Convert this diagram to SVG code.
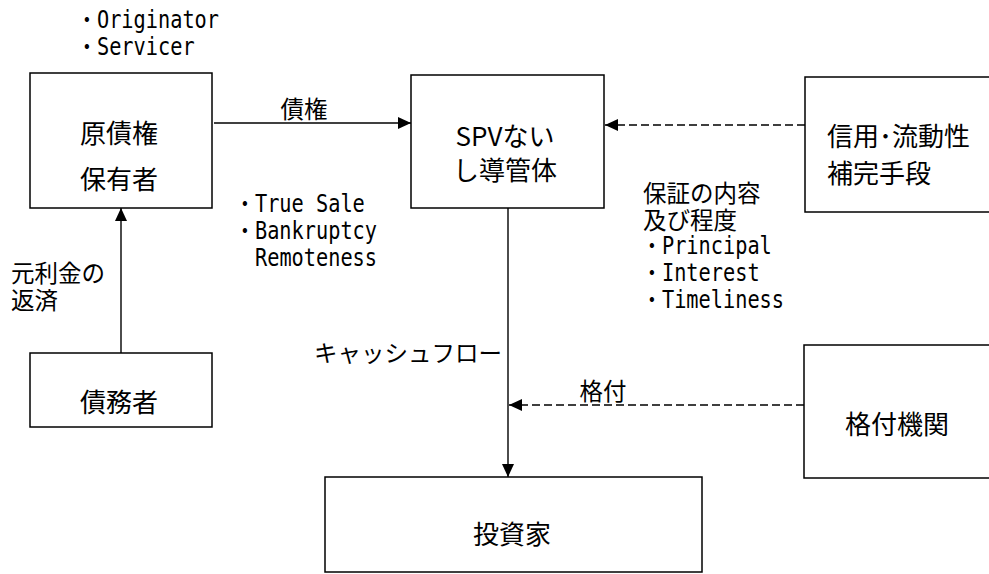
<svg xmlns="http://www.w3.org/2000/svg" width="989" height="574" viewBox="0 0 989 574">
<style>
.box{fill:#fff;stroke:#000;stroke-width:1.5}
.n{font-family:"Noto Sans CJK JP","Liberation Sans",sans-serif;font-size:26px;fill:#000;dominant-baseline:central}
.a{font-family:"Noto Sans CJK JP","Liberation Sans",sans-serif;font-size:23.5px;fill:#000;dominant-baseline:central}
.m{font-family:"DejaVu Sans Mono","Noto Sans CJK JP",monospace;font-size:24px;fill:#000}
.ln{fill:none;stroke:#000;stroke-width:1.4}
.dl{fill:none;stroke:#000;stroke-width:1.6;stroke-dasharray:8 4}
</style>
<defs>
<marker id="ah" markerUnits="userSpaceOnUse" markerWidth="14" markerHeight="12" refX="13" refY="6" orient="auto">
<path d="M0,0 L13,6 L0,12 Z" fill="#000"/>
</marker>
</defs>
<g id="connectors">
<line class="ln" x1="214" y1="123" x2="411" y2="123" marker-end="url(#ah)"/>
<line class="dl" x1="805" y1="125" x2="605" y2="125" marker-end="url(#ah)"/>
<line class="ln" x1="121" y1="353" x2="121" y2="208" marker-end="url(#ah)"/>
<line class="ln" x1="508" y1="208" x2="508" y2="477" marker-end="url(#ah)"/>
<line class="dl" x1="804" y1="405" x2="509" y2="405" marker-end="url(#ah)"/>
<text class="a" x="304" y="108" text-anchor="middle">債権</text>
<text class="a" x="11" y="272">元利金の</text>
<text class="a" x="11" y="299">返済</text>
<text class="a" x="502" y="352" text-anchor="end">キャッシュフロー</text>
<text class="a" x="603" y="390" text-anchor="middle">格付</text>
</g>
<g id="notes">
<text class="m" x="76.7" y="28" textLength="142.3" lengthAdjust="spacingAndGlyphs">・Originator</text>
<text class="m" x="76.7" y="55" textLength="117.9" lengthAdjust="spacingAndGlyphs">・Servicer</text>
<text class="m" x="234.7" y="212" textLength="130.1" lengthAdjust="spacingAndGlyphs">・True Sale</text>
<text class="m" x="234.7" y="239" textLength="142.3" lengthAdjust="spacingAndGlyphs">・Bankruptcy</text>
<text class="m" x="255" y="266" textLength="122" lengthAdjust="spacingAndGlyphs">Remoteness</text>
<text class="a" x="643" y="192">保証の内容</text>
<text class="a" x="643" y="219">及び程度</text>
<text class="m" x="641.7" y="254" textLength="130.1" lengthAdjust="spacingAndGlyphs">・Principal</text>
<text class="m" x="641.7" y="281" textLength="117.9" lengthAdjust="spacingAndGlyphs">・Interest</text>
<text class="m" x="641.7" y="308" textLength="142.3" lengthAdjust="spacingAndGlyphs">・Timeliness</text>
</g>
<g id="originator">
<rect class="box" x="30" y="73" width="182" height="135"/>
<text class="n" x="119" y="131" text-anchor="middle">原債権</text>
<text class="n" x="119" y="177" text-anchor="middle">保有者</text>
</g>
<g id="spv">
<rect class="box" x="411" y="75" width="193" height="133"/>
<text class="n" x="505" y="134" text-anchor="middle">SPVない</text>
<text class="n" x="505" y="168" text-anchor="middle">し導管体</text>
</g>
<g id="credit">
<rect class="box" x="805" y="77" width="200" height="135"/>
<text class="n" x="827" y="134">信用･流動性</text>
<text class="n" x="827" y="171">補完手段</text>
</g>
<g id="obligor">
<rect class="box" x="30" y="353" width="182" height="74"/>
<text class="n" x="119" y="400" text-anchor="middle">債務者</text>
</g>
<g id="rating">
<rect class="box" x="804" y="345" width="200" height="133"/>
<text class="n" x="897" y="422" text-anchor="middle">格付機関</text>
</g>
<g id="investor">
<rect class="box" x="325" y="477" width="377" height="95"/>
<text class="n" x="512" y="532" text-anchor="middle">投資家</text>
</g>
</svg>
